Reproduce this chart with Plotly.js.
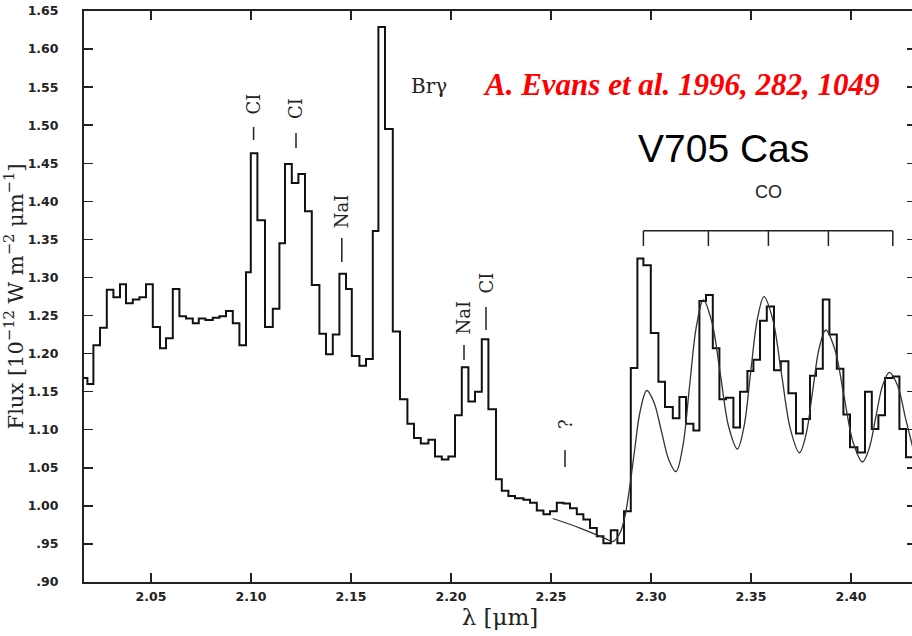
<!DOCTYPE html>
<html>
<head>
<meta charset="utf-8">
<script src="https://cdn.plot.ly/plotly-3.0.1.min.js"></script>
<style>
html, body { margin: 0; padding: 0; overflow: hidden; background: #fff; }
#chart { width: 916px; height: 636px; }
</style>
</head>
<body>
<div id="chart"></div>
<script>
// Observed spectrum: left edge of each wavelength bin (µm) and flux (1e-12 W m^-2 µm^-1)
const binStart = [2.0145, 2.0182, 2.0212, 2.0245, 2.0279, 2.0312, 2.0345, 2.0375, 2.0409, 2.0442,
  2.0475, 2.0509, 2.0545, 2.0575, 2.0609, 2.0642, 2.0675, 2.0709, 2.0739, 2.0772,
  2.0809, 2.0842, 2.0875, 2.0909, 2.0942, 2.0975, 2.0999, 2.1032, 2.1070, 2.1109,
  2.1142, 2.1170, 2.1204, 2.1237, 2.1270, 2.1304, 2.1342, 2.1375, 2.1409, 2.1442,
  2.1475, 2.1504, 2.1542, 2.1575, 2.1609, 2.1637, 2.1670, 2.1709, 2.1745, 2.1782,
  2.1815, 2.1849, 2.1887, 2.1920, 2.1954, 2.1987, 2.2020, 2.2054, 2.2087, 2.2120,
  2.2154, 2.2187, 2.2225, 2.2254, 2.2287, 2.2320, 2.2362, 2.2395, 2.2429, 2.2462,
  2.2495, 2.2529, 2.2562, 2.2595, 2.2629, 2.2662, 2.2695, 2.2729, 2.2762, 2.2799,
  2.2832, 2.2865, 2.2899, 2.2932, 2.2962, 2.2999, 2.3037, 2.3070, 2.3109, 2.3142,
  2.3175, 2.3212, 2.3242, 2.3275, 2.3309, 2.3342, 2.3375, 2.3412, 2.3445, 2.3482,
  2.3512, 2.3545, 2.3579, 2.3615, 2.3649, 2.3687, 2.3725, 2.3759, 2.3795, 2.3825,
  2.3859, 2.3892, 2.3929, 2.3962, 2.3995, 2.4032, 2.4070, 2.4104, 2.4137, 2.4170,
  2.4209, 2.4242, 2.4275];
const lastBinEnd = 2.4330;
const flux = [1.168, 1.160, 1.211, 1.234, 1.284, 1.274, 1.291, 1.266, 1.271, 1.274,
  1.291, 1.235, 1.207, 1.220, 1.285, 1.249, 1.246, 1.240, 1.246, 1.244,
  1.247, 1.249, 1.256, 1.240, 1.211, 1.307, 1.463, 1.375, 1.235, 1.259,
  1.345, 1.449, 1.424, 1.436, 1.387, 1.290, 1.226, 1.199, 1.225, 1.305,
  1.285, 1.197, 1.184, 1.193, 1.361, 1.629, 1.495, 1.229, 1.140, 1.108,
  1.089, 1.082, 1.087, 1.065, 1.061, 1.065, 1.119, 1.182, 1.137, 1.150,
  1.219, 1.127, 1.035, 1.020, 1.013, 1.010, 1.008, 1.004, 0.994, 0.989,
  0.993, 1.004, 1.003, 0.997, 0.989, 0.982, 0.971, 0.960, 0.951, 0.968,
  0.951, 0.993, 1.181, 1.325, 1.316, 1.227, 1.163, 1.130, 1.115, 1.143,
  1.108, 1.099, 1.269, 1.277, 1.207, 1.140, 1.142, 1.103, 1.150, 1.177,
  1.192, 1.243, 1.262, 1.178, 1.190, 1.148, 1.095, 1.114, 1.171, 1.180,
  1.271, 1.225, 1.180, 1.120, 1.077, 1.070, 1.150, 1.101, 1.119, 1.168,
  1.170, 1.101, 1.064];

// CO model curve
const modelX = [2.2509, 2.2645, 2.2770, 2.2810, 2.2845, 2.2870, 2.2895, 2.2920, 2.2945, 2.2979,
  2.3015, 2.3052, 2.3089, 2.3125, 2.3159, 2.3193, 2.3228, 2.3262, 2.3304, 2.3347,
  2.3389, 2.3432, 2.3465, 2.3498, 2.3532, 2.3565, 2.3609, 2.3653, 2.3698, 2.3742,
  2.3775, 2.3808, 2.3841, 2.3874, 2.3919, 2.3965, 2.4011, 2.4057, 2.4090, 2.4124,
  2.4158, 2.4192, 2.4233, 2.4273, 2.4314];
const modelY = [0.9834, 0.9709, 0.9574, 0.9532, 0.9644, 0.9867, 1.0274, 1.0773, 1.1233, 1.1515,
  1.1359, 1.0982, 1.0605, 1.0449, 1.0780, 1.1577, 1.2373, 1.2704, 1.2418, 1.1726,
  1.1033, 1.0747, 1.1040, 1.1747, 1.2455, 1.2748, 1.2448, 1.1723, 1.0998, 1.0698,
  1.0935, 1.1504, 1.2074, 1.2310, 1.2057, 1.1443, 1.0830, 1.0576, 1.0748, 1.1165,
  1.1582, 1.1754, 1.1580, 1.1146, 1.0714];

// Axis ticks
const xTickVals = [2.05, 2.10, 2.15, 2.20, 2.25, 2.30, 2.35, 2.40];
const xTickText = ['2.05', '2.10', '2.15', '2.20', '2.25', '2.30', '2.35', '2.40'];
const yTickVals = [0.90, 0.95, 1.00, 1.05, 1.10, 1.15, 1.20, 1.25, 1.30, 1.35, 1.40, 1.45, 1.50, 1.55, 1.60, 1.65];
const yTickText = ['.90', '.95', '1.00', '1.05', '1.10', '1.15', '1.20', '1.25', '1.30', '1.35', '1.40', '1.45', '1.50', '1.55', '1.60', '1.65'];

// Line identifications: label, wavelength, label centre height, marker dash top / bottom
const lineLabels = ['CI', 'CI', 'NaI', 'NaI', 'CI', '?'];
const lineLabelX = [2.1013, 2.1225, 2.1454, 2.2065, 2.2175, 2.2570];
const lineLabelY = [1.5279, 1.5213, 1.3867, 1.2474, 1.2921, 1.1075];
const dashTop = [1.4977, 1.4898, 1.3519, 1.2113, 1.2612, 1.0734];
const dashBottom = [1.4806, 1.4701, 1.3203, 1.1916, 1.2310, 1.0511];

// CO band heads bracket
const coHeads = [2.2962, 2.3287, 2.3587, 2.3887, 2.4209];

const stepX = binStart.concat([lastBinEnd]);
const stepY = flux.concat([flux[flux.length - 1]]);

const traces = [
  { x: stepX, y: stepY, type: 'scatter', mode: 'lines', line: { shape: 'hv', color: '#111', width: 2 }, hoverinfo: 'skip' },
  { x: modelX, y: modelY, type: 'scatter', mode: 'lines', line: { shape: 'spline', smoothing: 1, color: '#333', width: 1.3 }, hoverinfo: 'skip' }
];

const serif = 'DejaVu Serif, Liberation Serif, serif';
const annotations = lineLabels.map((t, i) => ({
  x: lineLabelX[i], y: lineLabelY[i], xref: 'x', yref: 'y',
  text: t, textangle: -90, showarrow: false,
  font: { family: serif, size: 18, color: '#222' },
  xanchor: 'center', yanchor: 'middle'
}));
annotations.push(
  { x: 2.189, y: 1.5515, xref: 'x', yref: 'y', text: 'Br\u03b3', showarrow: false,
    font: { family: serif, size: 20, color: '#222' }, xanchor: 'center', yanchor: 'middle' },
  { x: 2.315, y: 1.553, xref: 'x', yref: 'y', text: '<b><i>A. Evans et al. 1996, 282, 1049</i></b>', showarrow: false,
    font: { family: 'Liberation Serif, Times New Roman, serif', size: 31, color: '#ff0000' }, xanchor: 'center', yanchor: 'middle' },
  { x: 2.3363, y: 1.470, xref: 'x', yref: 'y', text: 'V705 Cas', showarrow: false,
    font: { family: 'Liberation Sans, Arial, sans-serif', size: 39, color: '#000' }, xanchor: 'center', yanchor: 'middle' },
  { x: 2.3585, y: 1.4123, xref: 'x', yref: 'y', text: 'CO', showarrow: false,
    font: { family: 'Liberation Sans, Arial, sans-serif', size: 18, color: '#222' }, xanchor: 'center', yanchor: 'middle' }
);

const shapes = [{ type: 'line', xref: 'x', yref: 'y', x0: coHeads[0], x1: coHeads[coHeads.length - 1], y0: 1.3614, y1: 1.3614, line: { color: '#222', width: 1.5 } }];
coHeads.forEach(h => shapes.push({ type: 'line', xref: 'x', yref: 'y', x0: h, x1: h, y0: 1.3614, y1: 1.3414, line: { color: '#222', width: 1.5 } }));
lineLabelX.forEach((lx, i) => shapes.push({ type: 'line', xref: 'x', yref: 'y', x0: lx, x1: lx, y0: dashBottom[i], y1: dashTop[i], line: { color: '#222', width: 1.5 } }));

const tickFont = { family: 'DejaVu Sans, Liberation Sans, sans-serif', size: 12.5, color: '#222', weight: 'bold' };

const layout = {
  width: 916, height: 636,
  margin: { l: 84, r: 0, t: 11, b: 54 },
  paper_bgcolor: '#fff', plot_bgcolor: '#fff',
  showlegend: false,
  xaxis: {
    range: [2.0165, 2.4325], tickvals: xTickVals, ticktext: xTickText,
    ticks: 'inside', ticklen: 9, tickwidth: 1.5, tickcolor: '#222',
    showline: true, linecolor: '#222', linewidth: 2, mirror: 'ticks',
    showgrid: false, zeroline: false, tickfont: tickFont, ticklabelstandoff: 2,
    title: { text: '\u03bb [\u03bcm]', font: { family: serif, size: 23, color: '#222' }, standoff: 6 }
  },
  yaxis: {
    range: [0.90, 1.65], tickvals: yTickVals, ticktext: yTickText,
    ticks: 'inside', ticklen: 9, tickwidth: 1.5, tickcolor: '#222',
    showline: true, linecolor: '#222', linewidth: 2, mirror: 'ticks',
    showgrid: false, zeroline: false, tickfont: tickFont, ticklabelstandoff: 21,
    title: { text: 'Flux [10<sup>\u221212</sup> W m<sup>\u22122</sup> \u03bcm<sup>\u22121</sup>]', font: { family: serif, size: 21, color: '#222' }, standoff: 0 }
  },
  annotations: annotations,
  shapes: shapes
};

Plotly.newPlot('chart', traces, layout, { staticPlot: true, displayModeBar: false });
</script>
</body>
</html>
